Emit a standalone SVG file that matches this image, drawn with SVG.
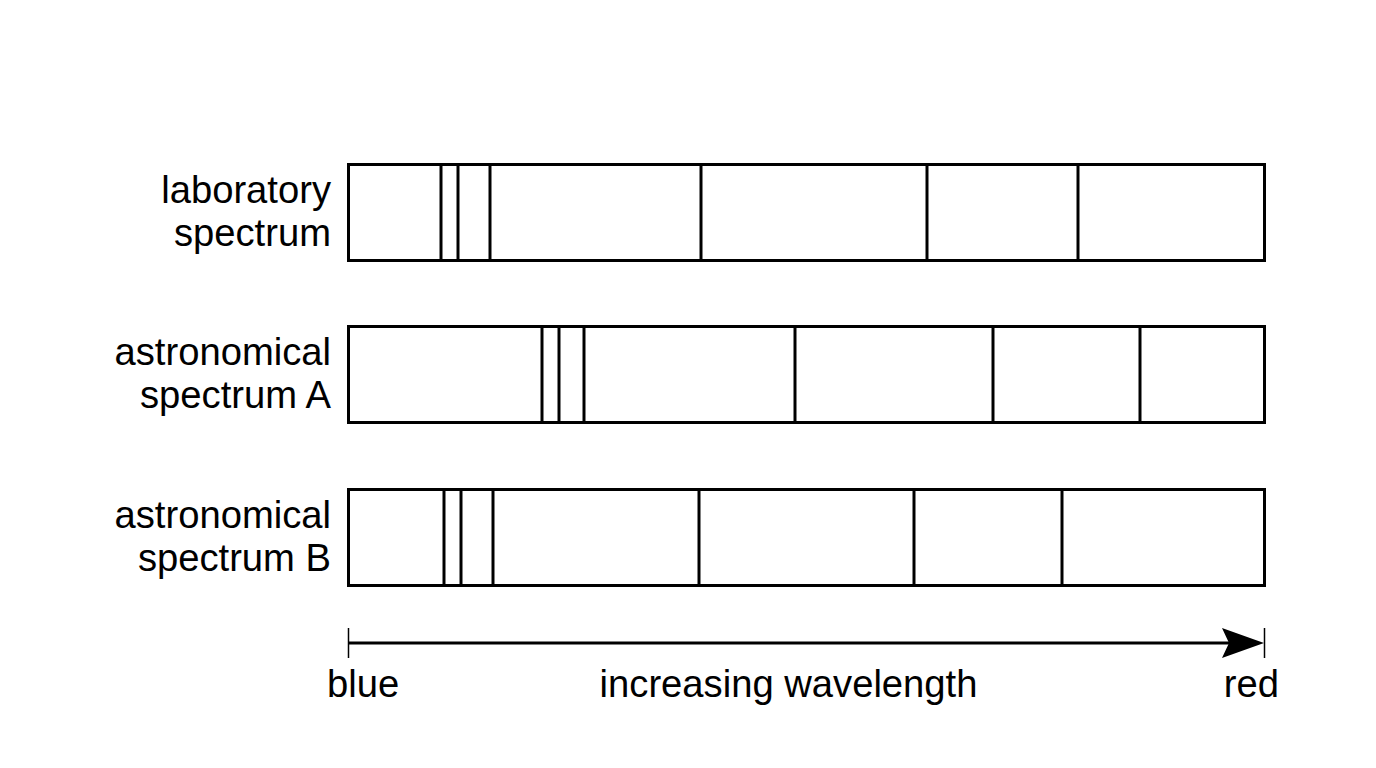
<svg xmlns="http://www.w3.org/2000/svg" width="1376" height="768" viewBox="0 0 1376 768">
<style>
.box{fill:#fff;stroke:#000;stroke-width:3}
.ln{stroke:#000;stroke-width:3}
.lbl{font-family:"Liberation Sans",Arial,sans-serif;font-size:38.2px;fill:#000}
.end{text-anchor:end}
.mid{text-anchor:middle}
</style>
<rect width="1376" height="768" fill="#fff"/>
<g id="lab">
<rect class="box" x="348.5" y="164.5" width="916" height="96"/>
<line class="ln" x1="441" y1="164" x2="441" y2="261"/>
<line class="ln" x1="458" y1="164" x2="458" y2="261"/>
<line class="ln" x1="490" y1="164" x2="490" y2="261"/>
<line class="ln" x1="701" y1="164" x2="701" y2="261"/>
<line class="ln" x1="927" y1="164" x2="927" y2="261"/>
<line class="ln" x1="1078" y1="164" x2="1078" y2="261"/>
<text class="lbl end" x="331" y="203">laboratory</text>
<text class="lbl end" x="331" y="246">spectrum</text>
</g>
<g id="specA">
<rect class="box" x="348.5" y="326.5" width="916" height="96"/>
<line class="ln" x1="542" y1="326" x2="542" y2="423"/>
<line class="ln" x1="559" y1="326" x2="559" y2="423"/>
<line class="ln" x1="584" y1="326" x2="584" y2="423"/>
<line class="ln" x1="795" y1="326" x2="795" y2="423"/>
<line class="ln" x1="993" y1="326" x2="993" y2="423"/>
<line class="ln" x1="1140" y1="326" x2="1140" y2="423"/>
<text class="lbl end" x="331" y="365">astronomical</text>
<text class="lbl end" x="331" y="408">spectrum A</text>
</g>
<g id="specB">
<rect class="box" x="348.5" y="489.5" width="916" height="96"/>
<line class="ln" x1="444" y1="489" x2="444" y2="586"/>
<line class="ln" x1="461" y1="489" x2="461" y2="586"/>
<line class="ln" x1="493" y1="489" x2="493" y2="586"/>
<line class="ln" x1="699" y1="489" x2="699" y2="586"/>
<line class="ln" x1="914" y1="489" x2="914" y2="586"/>
<line class="ln" x1="1062" y1="489" x2="1062" y2="586"/>
<text class="lbl end" x="331" y="528">astronomical</text>
<text class="lbl end" x="331" y="571">spectrum B</text>
</g>
<g id="connectors">
<line x1="348.5" y1="628" x2="348.5" y2="658" stroke="#000" stroke-width="1.5"/>
<line x1="1264.5" y1="628" x2="1264.5" y2="658" stroke="#000" stroke-width="1.5"/>
<line x1="348" y1="643" x2="1230" y2="643" stroke="#000" stroke-width="3"/>
<path d="M1264,643 L1222,628 L1229,643 L1222,658 Z" fill="#000"/>
</g>
<g id="axis">
<text class="lbl" x="327" y="697">blue</text>
<text class="lbl mid" x="788.5" y="697">increasing wavelength</text>
<text class="lbl end" x="1279" y="697">red</text>
</g>
</svg>
